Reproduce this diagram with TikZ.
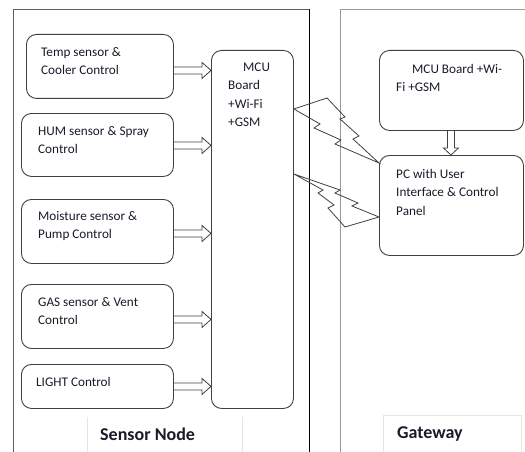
\documentclass[tikz,border=0pt]{standalone}
\usepackage{fontspec}
\setmainfont{Carlito}
\usetikzlibrary{calc}
\definecolor{boxline}{HTML}{404040}
\definecolor{txt}{HTML}{1A1A2A}
\begin{document}
\begin{tikzpicture}[x=1pt,y=-1pt,
  box/.style={draw=boxline,line width=0.9pt,rounded corners=10pt,anchor=north west,inner sep=0pt},
  txtnode/.style={anchor=north west,inner sep=0pt,align=left,text=txt,
    font=\fontsize{13.2}{18.5}\selectfont},
  lbl/.style={anchor=base west,inner sep=0pt,text=txt,font=\fontsize{18}{20}\selectfont\bfseries},
  arrowline/.style={draw=boxline,line width=0.8pt,line join=miter},
  bolt/.style={draw=boxline,line width=0.8pt,line join=miter},
]
\useasboundingbox (0,0) rectangle (525,452);
% panels
\draw[gray!75!black,line width=0.9pt] (13,452) -- (13,9) -- (309,9);
\draw[black,line width=0.9pt] (309,9) -- (309,452);
\draw[gray!80,line width=0.9pt] (340,452) -- (340,9) -- (525,9);
% label boxes
\draw[gray!20,line width=0.8pt] (87,452) -- (87,417);
\draw[gray!20,line width=0.8pt] (242,452) -- (242,417);
\draw[gray!20,line width=0.8pt] (383,452) -- (383,415) -- (521,415) -- (521,452);
\node[lbl] (sn) at (100,440) {Sensor Node};
\node[lbl] (gw) at (397,438) {Gateway};
% sensor boxes
\node[box,minimum width=147pt,minimum height=64pt] (t) at (26,34) {};
\node[box,minimum width=152pt,minimum height=63pt] (h) at (21,113) {};
\node[box,minimum width=152pt,minimum height=64pt] (m) at (21,199) {};
\node[box,minimum width=152pt,minimum height=64pt] (g) at (21,284) {};
\node[box,minimum width=152pt,minimum height=44pt] (l) at (21,364) {};
\node[box,minimum width=82pt,minimum height=358pt] (mcu) at (211,50) {};
\node[box,minimum width=144pt,minimum height=80pt] (gm) at (379,50) {};
\node[box,minimum width=144pt,minimum height=100pt] (pc) at (379,155) {};
% texts
\node[txtnode] (tt) at (41,45) {\rule{0pt}{11pt}Temp sensor \&\\Cooler Control};
\node[txtnode] (ht) at (38,124) {\rule{0pt}{11pt}HUM sensor \& Spray\\Control};
\node[txtnode] (mt) at (38,209) {\rule{0pt}{11pt}Moisture sensor \&\\Pump Control};
\node[txtnode] (gt) at (38,295) {\rule{0pt}{11pt}GAS sensor \& Vent\\Control};
\node[txtnode] (lt) at (36,375) {\rule{0pt}{11pt}LIGHT Control};
\node[txtnode] (mcut) at (228,60) {\rule{0pt}{11pt}\hspace*{15pt}MCU\\Board\\+Wi-Fi\\+GSM};
\node[txtnode] (gmt) at (396,62) {\rule{0pt}{11pt}\hspace*{16pt}MCU Board +Wi-\\Fi +GSM};
\node[txtnode] (pct) at (396,167) {\rule{0pt}{11pt}PC with User\\Interface \& Control\\Panel};
% hollow arrows
\newcommand\harr[3]{%
  \path ([yshift=#3]#1.east) coordinate (hs) ([yshift=#3]#1.east -| #2.west) coordinate (he);
  \draw[arrowline] let \p1=(hs), \p2=(he) in
    (\x1,\y1+3.5pt) -- (\x2-9pt,\y1+3.5pt) -- (\x2-9pt,\y1+8pt) -- (\x2,\y1)
    -- (\x2-9pt,\y1-8pt) -- (\x2-9pt,\y1-3.5pt) -- (\x1,\y1-3.5pt);}
\harr{t}{mcu}{-4pt}
\harr{h}{mcu}{-0.5pt}
\harr{m}{mcu}{-2pt}
\harr{g}{mcu}{-3pt}
\harr{l}{mcu}{0pt}
% down arrow
\path ([xshift=-0.5pt]gm.south) coordinate (ds) ([xshift=-0.5pt]gm.south |- pc.north) coordinate (de);
\draw[arrowline] let \p1=(ds), \p2=(de) in
  (\x1-3.5pt,\y1) -- (\x1-3.5pt,\y2+7pt) -- (\x1-7.5pt,\y2+7pt) -- (\x1,\y2)
  -- (\x1+7.5pt,\y2+7pt) -- (\x1+3.5pt,\y2+7pt) -- (\x1+3.5pt,\y1);
% lightning bolts
\coordinate (b1s) at (mcu.east |- 0,109);
\coordinate (b1e) at (pc.west |- 0,163);
\draw[bolt] (b1s) -- (327,98) -- (345,117) -- (340,119) -- (359,136) -- (353,139) -- (b1e)
  -- (335,144) -- (341,140) -- (314,128) -- (320,124) -- cycle;
\coordinate (b2s) at (mcu.east |- 0,174);
\coordinate (b2e) at (pc.west |- 0,217);
\draw[bolt] (b2s) -- (340,190) -- (335,193) -- (358,203) -- (352,206) -- (b2e)
  -- (345,227) -- (328,208) -- (334,205) -- (318,193) -- (323,190) -- cycle;
\end{tikzpicture}
\end{document}
